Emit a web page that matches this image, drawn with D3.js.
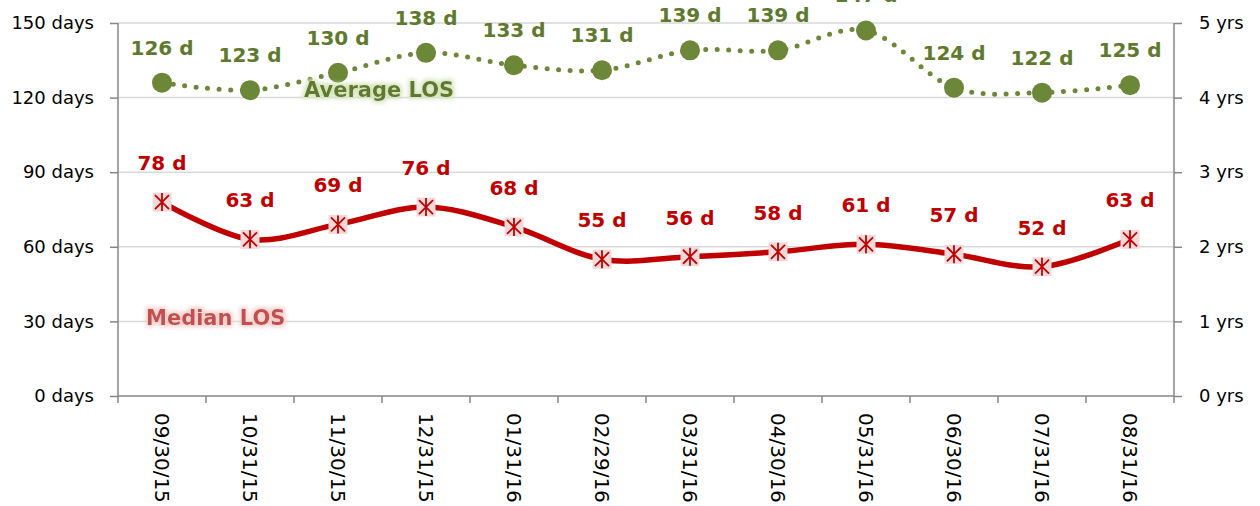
<!DOCTYPE html>
<html lang="en">
<head>
<meta charset="utf-8">
<title>Average and Median LOS</title>
<style>
  body { margin: 0; background: #fff; }
  svg text { font-family: "DejaVu Sans", sans-serif; }
</style>
</head>
<body>
<svg width="1260" height="506"></svg>
<script src="https://d3js.org/d3.v7.min.js"></script>
<script>
// month-end dates on the x axis
var dates = ["09/30/15", "10/31/15", "11/30/15", "12/31/15", "01/31/16", "02/29/16",
             "03/31/16", "04/30/16", "05/31/16", "06/30/16", "07/31/16", "08/31/16"];
// length of stay in days
var averageLOS = [126, 123, 130, 138, 133, 131, 139, 139, 147, 124, 122, 125];
var medianLOS = [78, 63, 69, 76, 68, 55, 56, 58, 61, 57, 52, 63];
var leftTicks = [0, 30, 60, 90, 120, 150];
var rightTicks = [0, 1, 2, 3, 4, 5];

var svg = d3.select("svg"),
    margin = {top: 23, right: 86, bottom: 110, left: 118},
    width = +svg.attr("width") - margin.left - margin.right,
    height = +svg.attr("height") - margin.top - margin.bottom;

var green = "#6b8737", greenText = "#5f7a2e", red = "#c00000";

var x = d3.scaleBand().domain(dates).range([0, width]);
var y = d3.scaleLinear().domain([0, 150]).range([height, 0]);
var yRight = d3.scaleLinear().domain([0, 5]).range([height, 0]);

var defs = svg.append("defs");
function glow(id, col) {
  var f = defs.append("filter").attr("id", id)
      .attr("x", "-20%").attr("y", "-50%").attr("width", "140%").attr("height", "200%");
  f.append("feMorphology").attr("in", "SourceAlpha").attr("operator", "dilate").attr("radius", 2).attr("result", "d");
  f.append("feFlood").attr("flood-color", col);
  f.append("feComposite").attr("in2", "d").attr("operator", "in");
  f.append("feGaussianBlur").attr("stdDeviation", 2).attr("result", "g");
  var m = f.append("feMerge");
  m.append("feMergeNode").attr("in", "g");
  m.append("feMergeNode").attr("in", "SourceGraphic");
}
glow("glowGreen", "#d7e4bd");
glow("glowRed", "#f2cfce");

var g = svg.append("g").attr("transform", "translate(" + margin.left + "," + margin.top + ")");

// gridlines
g.append("g").selectAll("line")
  .data(leftTicks.slice(1))
  .enter().append("line")
    .attr("x1", 0).attr("x2", width)
    .attr("y1", function(d) { return y(d); })
    .attr("y2", function(d) { return y(d); })
    .attr("stroke", "#d9d9d9").attr("stroke-width", 1.5);

// left axis
var leftAxis = g.append("g")
    .call(d3.axisLeft(y).tickValues(leftTicks).tickSize(8).tickPadding(16)
      .tickFormat(function(d) { return d + " days"; }));
// right axis
var rightAxis = g.append("g").attr("transform", "translate(" + width + ",0)")
    .call(d3.axisRight(yRight).tickValues(rightTicks).tickSize(8).tickPadding(17)
      .tickFormat(function(d) { return d + " yrs"; }));
// bottom axis, ticks at category boundaries
var bottomAxis = g.append("g").attr("transform", "translate(0," + height + ")")
    .call(d3.axisBottom(x).tickSize(0).tickPadding(0));
bottomAxis.append("g").selectAll("line")
  .data(d3.range(dates.length + 1))
  .enter().append("line")
    .attr("x1", function(i) { return i * x.step(); })
    .attr("x2", function(i) { return i * x.step(); })
    .attr("y1", 0).attr("y2", 7)
    .attr("stroke", "#868686").attr("stroke-width", 1.5);

[leftAxis, rightAxis, bottomAxis].forEach(function(a) {
  a.select(".domain").attr("stroke", "#868686").attr("stroke-width", 1.5);
  a.selectAll(".tick line").attr("stroke", "#868686").attr("stroke-width", 1.5);
  a.selectAll(".tick text").attr("fill", "#000").style("font-size", "18px")
    .style("font-family", "'DejaVu Sans', sans-serif");
});
bottomAxis.selectAll(".tick text")
    .attr("transform", "translate(0,17) rotate(90)")
    .attr("dy", "0.35em").attr("x", 0).attr("y", 0)
    .style("text-anchor", "start").style("font-size", "20px");
leftAxis.select(".domain").attr("d", "M0," + height + "V0");
rightAxis.select(".domain").attr("d", "M0," + height + "V0");
bottomAxis.select(".domain").attr("d", "M0,0H" + width);

var cx = function(d, i) { return x(dates[i]) + x.bandwidth() / 2; };
var line = d3.line().x(function(d, i) { return cx(d, i); }).y(function(d) { return y(d); })
    .curve(d3.curveCardinal.tension(0));

// average LOS: dotted line with round markers
g.append("path").datum(averageLOS)
  .attr("d", line).attr("fill", "none")
  .attr("stroke", green).attr("stroke-width", 5)
  .attr("stroke-linecap", "round").attr("stroke-dasharray", "0 11.5");
g.selectAll(".avg").data(averageLOS).enter().append("circle")
  .attr("cx", cx).attr("cy", function(d) { return y(d); })
  .attr("r", 10).attr("fill", green);
g.selectAll(".avgLabel").data(averageLOS).enter().append("text")
  .attr("x", cx).attr("y", function(d) { return y(d) - 28; })
  .attr("text-anchor", "middle").attr("fill", greenText)
  .style("font-size", "20px").style("font-weight", "bold")
  .text(function(d) { return d + " d"; });

// median LOS: thick solid line with star-in-square markers
g.append("path").datum(medianLOS)
  .attr("d", line).attr("fill", "none")
  .attr("stroke", red).attr("stroke-width", 5.5);
var mk = g.selectAll(".med").data(medianLOS).enter().append("g")
  .attr("transform", function(d, i) { return "translate(" + cx(d, i) + "," + y(d) + ")"; });
mk.append("rect").attr("x", -9.5).attr("y", -9.5).attr("width", 19).attr("height", 19)
  .attr("fill", "#f2d9d9");
mk.append("path").attr("d", "M-7,-7L7,7M-7,7L7,-7M0,-9V9")
  .attr("stroke", red).attr("stroke-width", 1.8);
g.selectAll(".medLabel").data(medianLOS).enter().append("text")
  .attr("x", cx).attr("y", function(d) { return y(d) - 32; })
  .attr("text-anchor", "middle").attr("fill", red)
  .style("font-size", "20px").style("font-weight", "bold")
  .text(function(d) { return d + " d"; });

// series annotations
g.append("text")
  .attr("x", x(dates[2]) + 10).attr("y", y(120) - 1)
  .attr("fill", greenText).attr("filter", "url(#glowGreen)")
  .style("font-size", "21px").style("font-weight", "bold")
  .text("Average LOS");
g.append("text")
  .attr("x", x(dates[0]) + 28).attr("y", y(30) + 4)
  .attr("fill", "#c0504d").attr("filter", "url(#glowRed)")
  .style("font-size", "21px").style("font-weight", "bold")
  .text("Median LOS");
</script>
</body>
</html>
